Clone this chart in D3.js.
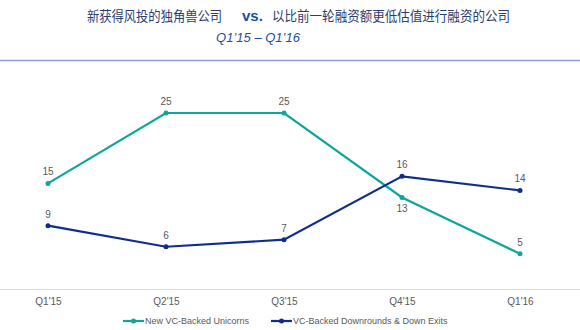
<!DOCTYPE html>
<html><head><meta charset="utf-8">
<script src="https://cdn.jsdelivr.net/npm/d3@7"></script>
<style>body{margin:0;background:#fff}svg{display:block}</style>
</head><body>
<svg id="c" width="580" height="330"></svg>
<script>
const categories = ["Q1'15","Q2'15","Q3'15","Q4'15","Q1'16"];
const unicorns = [15,25,25,13,5];
const downrounds = [9,6,7,16,14];
const seriesNames = ["New VC-Backed Unicorns","VC-Backed Downrounds & Down Exits"];
const titleLeft = "新获得风投的独角兽公司";
const titleVs = "vs.";
const titleRight = "以比前一轮融资额更低估值进行融资的公司";
const subtitle = "Q1’15 – Q1’16";

const svg = d3.select("#c");
const teal = "#0ea59c", navy = "#0f2d8c";
const x = d3.scalePoint().domain(categories).range([48,520]);
const y = d3.scaleLinear().domain([0,25]).range([289,113]);

// titles
const t = svg.append("text").attr("y",21).attr("font-family","'Noto Sans CJK SC', sans-serif").attr("font-size",13.4).attr("fill","#2c3d6b");
t.append("tspan").attr("x",87).attr("textLength",135).attr("lengthAdjust","spacingAndGlyphs").text(titleLeft);
t.append("tspan").attr("x",242).attr("font-family","Arial, 'Liberation Sans', sans-serif").attr("font-weight","bold").attr("font-size",15).attr("fill","#1f4e9c").text(titleVs);
t.append("tspan").attr("x",272).attr("textLength",238).attr("lengthAdjust","spacingAndGlyphs").text(titleRight);
svg.append("text").attr("x",258).attr("y",42).attr("text-anchor","middle")
  .attr("font-family","Arial, 'Liberation Sans', sans-serif").attr("font-style","italic").attr("font-size",13).attr("fill","#1f4e9c").text(subtitle);
svg.append("line").attr("x1",0).attr("x2",580).attr("y1",60.5).attr("y2",60.5).attr("stroke","#8aa2d2").attr("stroke-width",1.5);

// baseline axis
const ax = svg.append("g").attr("transform","translate(0,289)").call(d3.axisBottom(x).tickSize(0).tickPadding(9));
ax.select(".domain").remove();
svg.append("line").attr("x1",0).attr("x2",580).attr("y1",289.5).attr("y2",289.5).attr("stroke","#d9d9d9");
ax.selectAll("text").attr("font-family","Arial, 'Liberation Sans', sans-serif").attr("font-size",10).attr("fill","#595959");

const line = d3.line().x((d,i)=>x(categories[i])).y(d=>y(d));
function drawSeries(vals,color,labelPos){
  svg.append("path").datum(vals).attr("d",line).attr("fill","none").attr("stroke",color).attr("stroke-width",2.2);
  svg.selectAll(null).data(vals).enter().append("circle").attr("cx",(d,i)=>x(categories[i])).attr("cy",d=>y(d)).attr("r",2.5).attr("fill",color);
  svg.selectAll(null).data(vals).enter().append("text")
    .attr("x",(d,i)=>x(categories[i])).attr("y",(d,i)=>y(d)+(labelPos(i)==="below"?15:-8))
    .attr("text-anchor","middle").attr("font-family","Arial, 'Liberation Sans', sans-serif").attr("font-size",10).attr("fill","#595959").text(d=>d);
}
drawSeries(unicorns,teal,i=>i===3?"below":"above");
drawSeries(downrounds,navy,i=>"above");

// legend
const leg = [{name:seriesNames[0],color:teal,x:123},{name:seriesNames[1],color:navy,x:271}];
leg.forEach(l=>{
  svg.append("line").attr("x1",l.x).attr("x2",l.x+21).attr("y1",321).attr("y2",321).attr("stroke",l.color).attr("stroke-width",2.2);
  svg.append("circle").attr("cx",l.x+10.5).attr("cy",321).attr("r",2.5).attr("fill",l.color);
  svg.append("text").attr("x",l.x+22).attr("y",324.3).attr("font-family","Arial, 'Liberation Sans', sans-serif").attr("font-size",9).attr("fill","#595959").text(l.name);
});
</script>
</body></html>
